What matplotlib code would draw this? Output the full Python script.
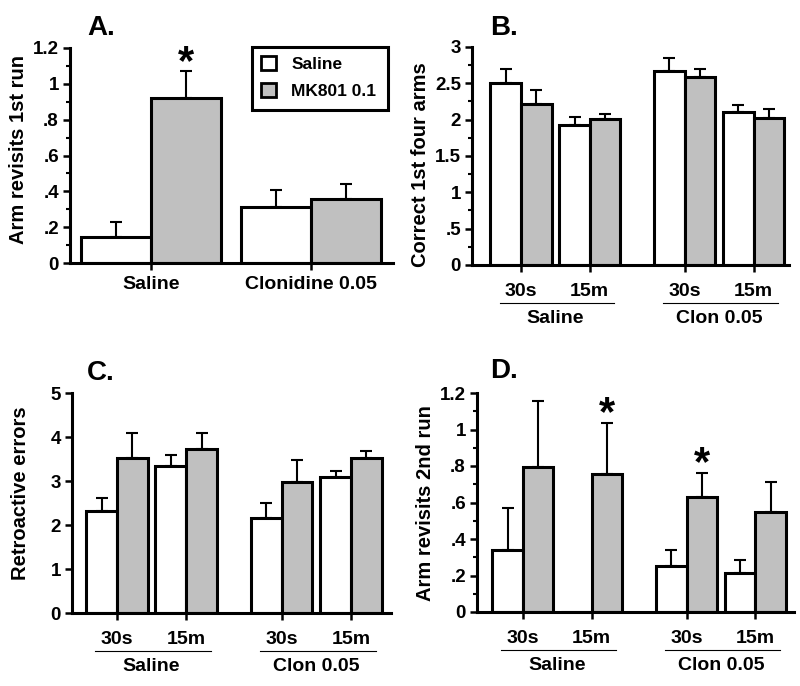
import numpy as np
import matplotlib
matplotlib.use("Agg")
import matplotlib.pyplot as plt
from matplotlib.patches import Patch, Rectangle
from matplotlib.ticker import MultipleLocator, FuncFormatter
from matplotlib.transforms import offset_copy

plt.rcParams["font.family"] = ["Liberation Sans", "DejaVu Sans"]
plt.rcParams["font.weight"] = "bold"

GREY = "#c0c0c0"
W, H = 800, 686

# A. arm revisits in the first run
a_groups = ["Saline", "Clonidine 0.05"]
a_sal = [0.145, 0.314]
a_sal_err = [0.084, 0.093]
a_mk = [0.919, 0.355]
a_mk_err = [0.153, 0.086]
a_sig = [True, False]  # star over the MK801 bar

# B-D: delay (30s / 15m) within pretreatment (Saline / Clon 0.05)
delays = ["30s", "15m", "30s", "15m"]
pretreat = ["Saline", "Clon 0.05"]

b_sal = [2.50, 1.93, 2.67, 2.10]
b_sal_err = [0.20, 0.11, 0.18, 0.10]
b_mk = [2.22, 2.01, 2.59, 2.02]
b_mk_err = [0.19, 0.07, 0.11, 0.12]

c_sal = [2.32, 3.33, 2.15, 3.10]
c_sal_err = [0.30, 0.25, 0.36, 0.13]
c_mk = [3.52, 3.73, 2.98, 3.52]
c_mk_err = [0.58, 0.37, 0.50, 0.17]

d_sal = [0.339, 0.0, 0.253, 0.211]
d_sal_err = [0.232, 0.0, 0.086, 0.073]
d_mk = [0.797, 0.755, 0.632, 0.546]
d_mk_err = [0.361, 0.283, 0.132, 0.168]
d_sig = [False, True, True, False]


def fmt(v, pos):
    s = f"{v:g}"
    return s[1:] if s.startswith("0.") else s


def add_ax(fig, left, right, top, bottom):
    # pixel box -> figure fraction
    return fig.add_axes([left / W, 1 - bottom / H, (right - left) / W, (bottom - top) / H])


def draw_bars(ax, centers, sal, sal_err, mk, mk_err, sig=None):
    xs = np.array(centers, dtype=float)
    sal, mk = np.array(sal), np.array(mk)
    sal_err, mk_err = np.array(sal_err), np.array(mk_err)
    ax.bar(xs - 0.5, sal, 1.0, color="white", edgecolor="black", linewidth=2.2, zorder=2)
    ax.bar(xs + 0.5, mk, 1.0, color=GREY, edgecolor="black", linewidth=2.2, zorder=2)
    for x, y, e in [(xs - 0.5, sal, sal_err), (xs + 0.5, mk, mk_err)]:
        keep = e > 0
        ax.errorbar(x[keep], y[keep], yerr=[np.zeros(keep.sum()), e[keep]], fmt="none",
                    ecolor="black", elinewidth=1.5, capsize=4, capthick=1.5, zorder=1)
    if sig is not None:
        star_tr = offset_copy(ax.transData, fig=ax.figure, y=8, units="dots")
        for x, y, e, s in zip(xs + 0.5, mk, mk_err, sig):
            if s:
                ax.text(x, y + e, "*", transform=star_tr, ha="center", va="center",
                        fontsize=30, fontweight="bold")


def style(ax, ylim, major, minor, label, label_y):
    for s in ["top", "right"]:
        ax.spines[s].set_visible(False)
    for s in ["left", "bottom"]:
        ax.spines[s].set_linewidth(2.2)
    ax.set_ylim(*ylim)
    ax.yaxis.set_major_locator(MultipleLocator(major))
    if minor:
        ax.yaxis.set_minor_locator(MultipleLocator(minor))
    ax.yaxis.set_major_formatter(FuncFormatter(fmt))
    ax.tick_params(axis="y", which="major", length=5, width=1.8, labelsize=13.5, pad=3)
    ax.tick_params(axis="y", which="minor", length=3, width=1.5)
    ax.tick_params(axis="x", length=5, width=1.8, labelsize=14)
    ax.set_ylabel(label, fontsize=14.5, fontweight="bold")
    w_px = ax.get_position().width * W
    ax.yaxis.set_label_coords(-42 / w_px, label_y)


def group_labels(ax, centers):
    fig = ax.figure
    line_tr = offset_copy(ax.get_xaxis_transform(), fig=fig, y=-38, units="dots")
    text_tr = offset_copy(ax.get_xaxis_transform(), fig=fig, y=-58, units="dots")
    for i, name in enumerate(pretreat):
        c1, c2 = centers[2 * i], centers[2 * i + 1]
        ax.plot([c1 - 0.7, c2 + 0.8], [0, 0], transform=line_tr, color="black",
                lw=0.8, clip_on=False)
        ax.text((c1 + c2) / 2, 0, name, transform=text_tr, ha="center", va="baseline",
                fontsize=14, fontweight="bold")


fig = plt.figure(figsize=(W / 100, H / 100), dpi=100)

centers4 = [1.5, 3.75, 6.85, 9.1]

# A
axA = add_ax(fig, 70, 393, 48, 263)
centersA = [1.16, 3.44]
draw_bars(axA, centersA, a_sal, a_sal_err, a_mk, a_mk_err, a_sig)
axA.set_xlim(0, 4.61)
axA.set_xticks(centersA)
axA.set_xticklabels(a_groups)
style(axA, (0, 1.2), 0.2, 0.1, "Arm revisits 1st run", 0.526)
axA.tick_params(axis="x", pad=4)
handles = [Patch(facecolor="white", edgecolor="black", linewidth=2),
           Patch(facecolor=GREY, edgecolor="black", linewidth=2)]
leg = axA.legend(handles, ["Saline", "MK801 0.1"], loc="upper left",
                 bbox_to_anchor=(261 / W, 1 - 56 / H), bbox_transform=fig.transFigure,
                 borderaxespad=0, borderpad=0, frameon=False, fontsize=12.5,
                 handlelength=0.85, handleheight=0.85, handletextpad=0.9,
                 labelspacing=0.62)
# legend box outline
fig.patches.append(Rectangle((252 / W, 1 - 110 / H), 136 / W, 63 / H,
                             transform=fig.transFigure, facecolor="none",
                             edgecolor="black", linewidth=2.2))

# B
axB = add_ax(fig, 472, 789, 47, 265)
draw_bars(axB, centers4, b_sal, b_sal_err, b_mk, b_mk_err)
axB.set_xlim(-0.1, 10.26)
axB.set_xticks(centers4)
axB.set_xticklabels(delays)
style(axB, (0, 3), 0.5, 0.25, "Correct 1st four arms", 0.459)
axB.tick_params(axis="x", pad=8)
group_labels(axB, centers4)

# C
axC = add_ax(fig, 72, 391, 393, 613)
draw_bars(axC, centers4, c_sal, c_sal_err, c_mk, c_mk_err)
axC.set_xlim(0.04, 10.4)
axC.set_xticks(centers4)
axC.set_xticklabels(delays)
style(axC, (0, 5), 1, None, "Retroactive errors", 0.545)
axC.tick_params(axis="x", pad=8)
group_labels(axC, centers4)

# D
axD = add_ax(fig, 477, 794, 393, 612)
draw_bars(axD, centers4, d_sal, d_sal_err, d_mk, d_mk_err, d_sig)
axD.set_xlim(0, 10.36)
axD.set_xticks(centers4)
axD.set_xticklabels(delays)
style(axD, (0, 1.2), 0.2, 0.1, "Arm revisits 2nd run", 0.498)
axD.tick_params(axis="x", pad=8)
group_labels(axD, centers4)

# panel letters
for letter, x, y in [("A.", 87, 35), ("B.", 490, 35), ("C.", 87, 380), ("D.", 490, 378)]:
    fig.text(x / W, 1 - y / H, letter, fontsize=20, fontweight="bold", ha="left", va="baseline")

fig.savefig("out.png", dpi=100)
